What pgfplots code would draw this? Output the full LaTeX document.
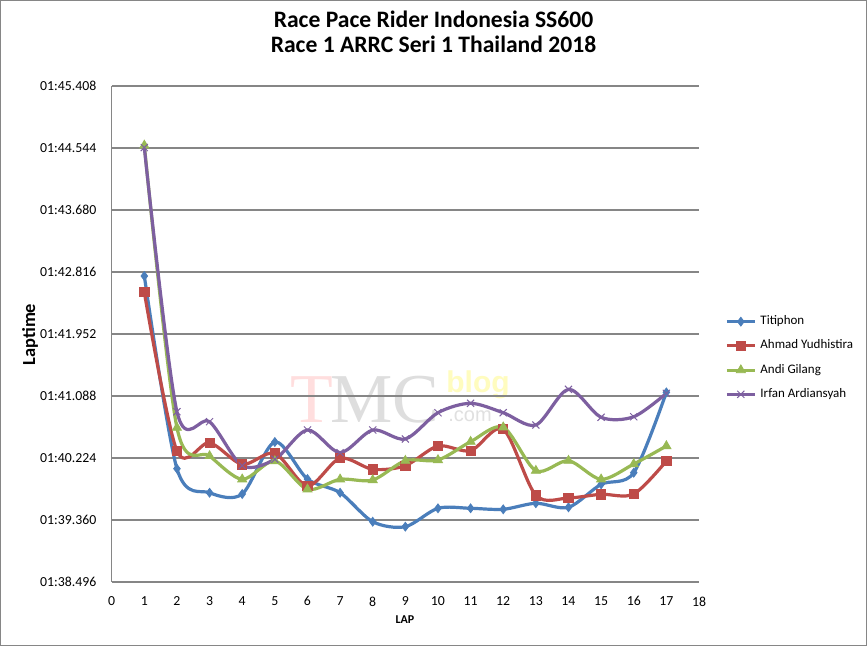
\documentclass[border=0pt]{standalone}
\usepackage{fontspec}
\setmainfont{Carlito}
\newfontfamily\wmserif{Liberation Serif}
\newfontfamily\wmsans{Liberation Sans}
\usepackage{pgfplots}
\pgfplotsset{compat=1.18}
\definecolor{cT}{HTML}{4A7EBB}
\definecolor{cA}{HTML}{BE4B48}
\definecolor{cG}{HTML}{98B954}
\definecolor{cI}{HTML}{7D5FA0}
\definecolor{gridc}{HTML}{868686}
\begin{document}
\begin{tikzpicture}
\useasboundingbox (0pt,0pt) rectangle (433.5pt,323pt);
\fill[white] (0pt,0pt) rectangle (433.5pt,323pt);
\draw[gridc, line width=0.6pt] (0.4pt,0.4pt) rectangle (433.1pt,322.6pt);
% watermark
\node[anchor=base west, inner sep=0, text=red!13, font=\wmserif\fontsize{35}{35}\selectfont] at (145pt,111.5pt) {T};
\node[anchor=base west, inner sep=0, text=black!13, font=\wmserif\fontsize{35}{35}\selectfont] at (165pt,111.5pt) {MC};
\node[anchor=base west, inner sep=0, text=yellow!25!white, font=\wmsans\bfseries\fontsize{15}{15}\selectfont] at (223pt,126.5pt) {blog};
\node[anchor=base west, inner sep=0, text=black!12, font=\wmsans\fontsize{10}{10}\selectfont] at (224pt,112pt) {.com};
% titles
\node[anchor=base, inner sep=0, font=\bfseries\fontsize{11.8}{13}\selectfont] at (216.75pt,309pt) {Race Pace Rider Indonesia SS600};
\node[anchor=base, inner sep=0, font=\bfseries\fontsize{11.8}{13}\selectfont] at (216.75pt,296.5pt) {Race 1 ARRC Seri 1 Thailand 2018};
\node[anchor=base, inner sep=0, rotate=90, font=\bfseries\fontsize{9.2}{10}\selectfont] at (17.5pt,155.7pt) {Laptime};
\node[anchor=base, inner sep=0, font=\bfseries\fontsize{6}{7}\selectfont] at (202.5pt,11pt) {LAP};
\begin{axis}[
  at={(55.85pt,32pt)}, anchor=south west,
  scale only axis, width=293.65pt, height=248pt,
  xmin=0, xmax=18, ymin=98.496, ymax=105.408,
  xtick={0,1,...,18},
  ytick={98.496,99.360,100.224,101.088,101.952,102.816,103.680,104.544,105.408},
  yticklabels={01:38.496,01:39.360,01:40.224,01:41.088,01:41.952,01:42.816,01:43.680,01:44.544,01:45.408},
  /pgf/number format/assume math mode=true,
  ticklabel style={font=\fontsize{6.9}{8}\selectfont},
  yticklabel style={xshift=-4.2pt},
  xticklabel style={yshift=-3.8pt},
  major tick length=0pt,
  axis x line=bottom, axis y line=left,
  axis line style={gridc, line width=0.6pt, -},
  ymajorgrids, grid style={gridc, line width=0.6pt},
  clip=false,
  legend style={at={(axis description cs:1.044,0.4516)}, anchor=west, draw=none, fill=none,
    font=\fontsize{6.5}{7.5}\selectfont, row sep=2.1pt, inner sep=0pt},
  legend cell align=left,
  legend image code/.code={\draw[mark repeat=2,mark phase=2] plot coordinates {(0pt,0pt)(7pt,0pt)(14pt,0pt)};},
  every axis plot/.append style={line width=1.6pt, smooth, tension=0.5},
]
\addplot[cT, mark=diamond*, mark size=2.2pt, mark options={solid, line width=0.4pt}] coordinates {
(1,102.760)(2,100.075)(3,99.740)(4,99.722)(5,100.447)(6,99.931)(7,99.740)(8,99.336)(9,99.267)
(10,99.523)(11,99.523)(12,99.509)(13,99.593)(14,99.537)(15,99.857)(16,100.019)(17,101.139)};
\addlegendentry{Titiphon}
\addplot[cA, mark=square*, mark size=2.3pt, mark options={solid, line width=0.4pt}] coordinates {
(1,102.533)(2,100.322)(3,100.437)(4,100.136)(5,100.289)(6,99.834)(7,100.220)(8,100.066)(9,100.117)
(10,100.391)(11,100.326)(12,100.624)(13,99.704)(14,99.667)(15,99.718)(16,99.722)(17,100.182)};
\addlegendentry{Ahmad Yudhistira}
\addplot[cG, mark=triangle*, mark size=2.6pt, mark options={solid, line width=0.4pt}] coordinates {
(1,104.580)(2,100.646)(3,100.252)(4,99.927)(5,100.182)(6,99.788)(7,99.927)(8,99.917)(9,100.186)
(10,100.196)(11,100.451)(12,100.652)(13,100.047)(14,100.186)(15,99.927)(16,100.140)(17,100.391)};
\addlegendentry{Andi Gilang}
\addplot[cI, mark=x, mark size=2.5pt, mark options={solid, line width=0.5pt}] coordinates {
(1,104.550)(2,100.869)(3,100.730)(4,100.117)(5,100.206)(6,100.614)(7,100.298)(8,100.614)(9,100.489)
(10,100.855)(11,100.986)(12,100.855)(13,100.684)(14,101.181)(15,100.791)(16,100.799)(17,101.125)};
\addlegendentry{Irfan Ardiansyah}
\end{axis}
\end{tikzpicture}
\end{document}
